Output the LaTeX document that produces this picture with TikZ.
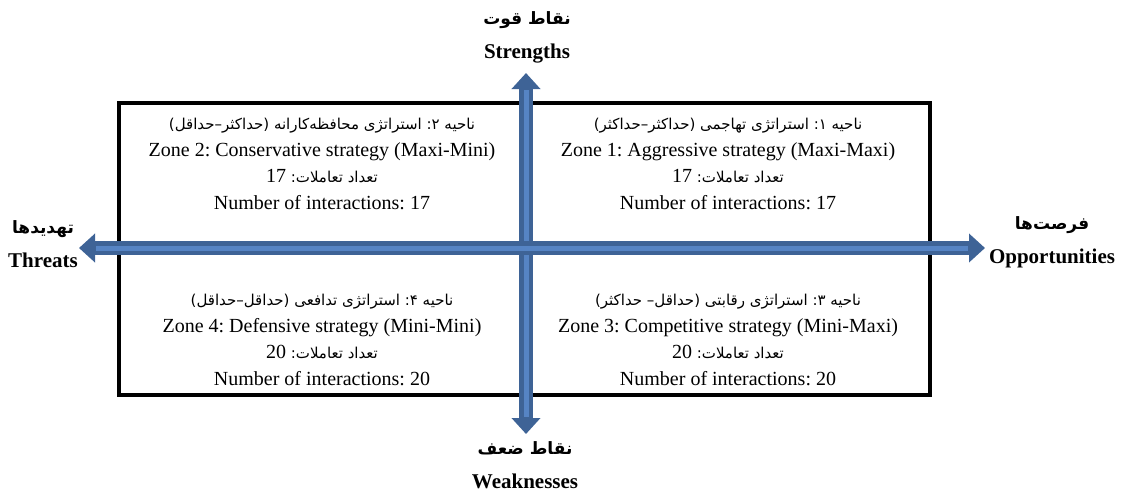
\documentclass[tikz,border=0pt]{standalone}
\usepackage{fontspec}
\setmainfont{Liberation Serif}
\newfontfamily\arabicfont[Script=Arabic]{DejaVu Sans}
\TeXXeTstate=1
\usetikzlibrary{arrows.meta}
\definecolor{axisblue}{RGB}{62,99,150}
\definecolor{axislight}{RGB}{86,132,196}
\tikzset{
  axis/.style={line width=14pt, axisblue, {Triangle[length=16pt,width=28pt]}-{Triangle[length=16pt,width=28pt]}},
  stripe/.style={line width=5pt, axislight, shorten <=17pt, shorten >=17pt},
  zonetext/.style={align=center, font=\frenchspacing\fontsize{20}{26.5}\selectfont},
  polelabel/.style={align=center, font=\bfseries\fontsize{21}{34}\selectfont},
}
\newcommand{\fa}[1]{{\arabicfont\fontsize{15}{26.5}\selectfont\beginR #1\endR}}
\newcommand{\fab}[1]{{\arabicfont\bfseries\fontsize{17}{34}\selectfont\beginR #1\endR}}
\newcommand{\num}[1]{{\rmfamily\fontsize{20}{26.5}\selectfont #1}}
\begin{document}
\begin{tikzpicture}[x=1pt,y=-1pt]
\useasboundingbox (0,0) rectangle (1121,491);
% frame of the four zones
\draw[line width=4pt] (119,103) rectangle (930,395);
% axes
\coordinate (o) at (526,248);
\coordinate (north) at (526,73);
\coordinate (south) at (526,434);
\coordinate (west) at (79,248);
\coordinate (east) at (985,248);
\draw[axis] (south) -- (north);
\draw[stripe] (south) -- (north);
\draw[axis] (west) -- (east);
\draw[stripe] (west) -- (east);
% zones
\node[zonetext] (zone2) at (322,164) {\fa{ناحیه ۲\kern0pt: استراتژی محافظه‌کارانه (حداکثر–حداقل)}\\
  Zone 2: Conservative strategy (Maxi-Mini)\\ \fa{تعداد تعاملات\kern0pt: \num{17}}\\ Number of interactions: 17};
\node[zonetext] (zone1) at (728,164) {\fa{ناحیه ۱\kern0pt: استراتژی تهاجمی (حداکثر–حداکثر)}\\
  Zone 1: Aggressive strategy (Maxi-Maxi)\\ \fa{تعداد تعاملات\kern0pt: \num{17}}\\ Number of interactions: 17};
\node[zonetext] (zone4) at (322,340) {\fa{ناحیه ۴\kern0pt: استراتژی تدافعی (حداقل–حداقل)}\\
  Zone 4: Defensive strategy (Mini-Mini)\\ \fa{تعداد تعاملات\kern0pt: \num{20}}\\ Number of interactions: 20};
\node[zonetext] (zone3) at (728,340) {\fa{ناحیه ۳\kern0pt: استراتژی رقابتی (حداقل– حداکثر)}\\
  Zone 3: Competitive strategy (Mini-Maxi)\\ \fa{تعداد تعاملات\kern0pt: \num{20}}\\ Number of interactions: 20};
% labels at the arrow ends
\node[polelabel] (strengths) at (527,37) {\fab{نقاط قوت}\\ Strengths};
\node[polelabel] (weaknesses) at (525,465) {\fab{نقاط ضعف}\\ Weaknesses};
\node[polelabel] (threats) at (43,244) {\fab{تهدیدها}\\ Threats};
\node[polelabel] (opportunities) at (1052,242) {\fab{فرصت‌ها}\\ Opportunities};
\end{tikzpicture}
\end{document}
